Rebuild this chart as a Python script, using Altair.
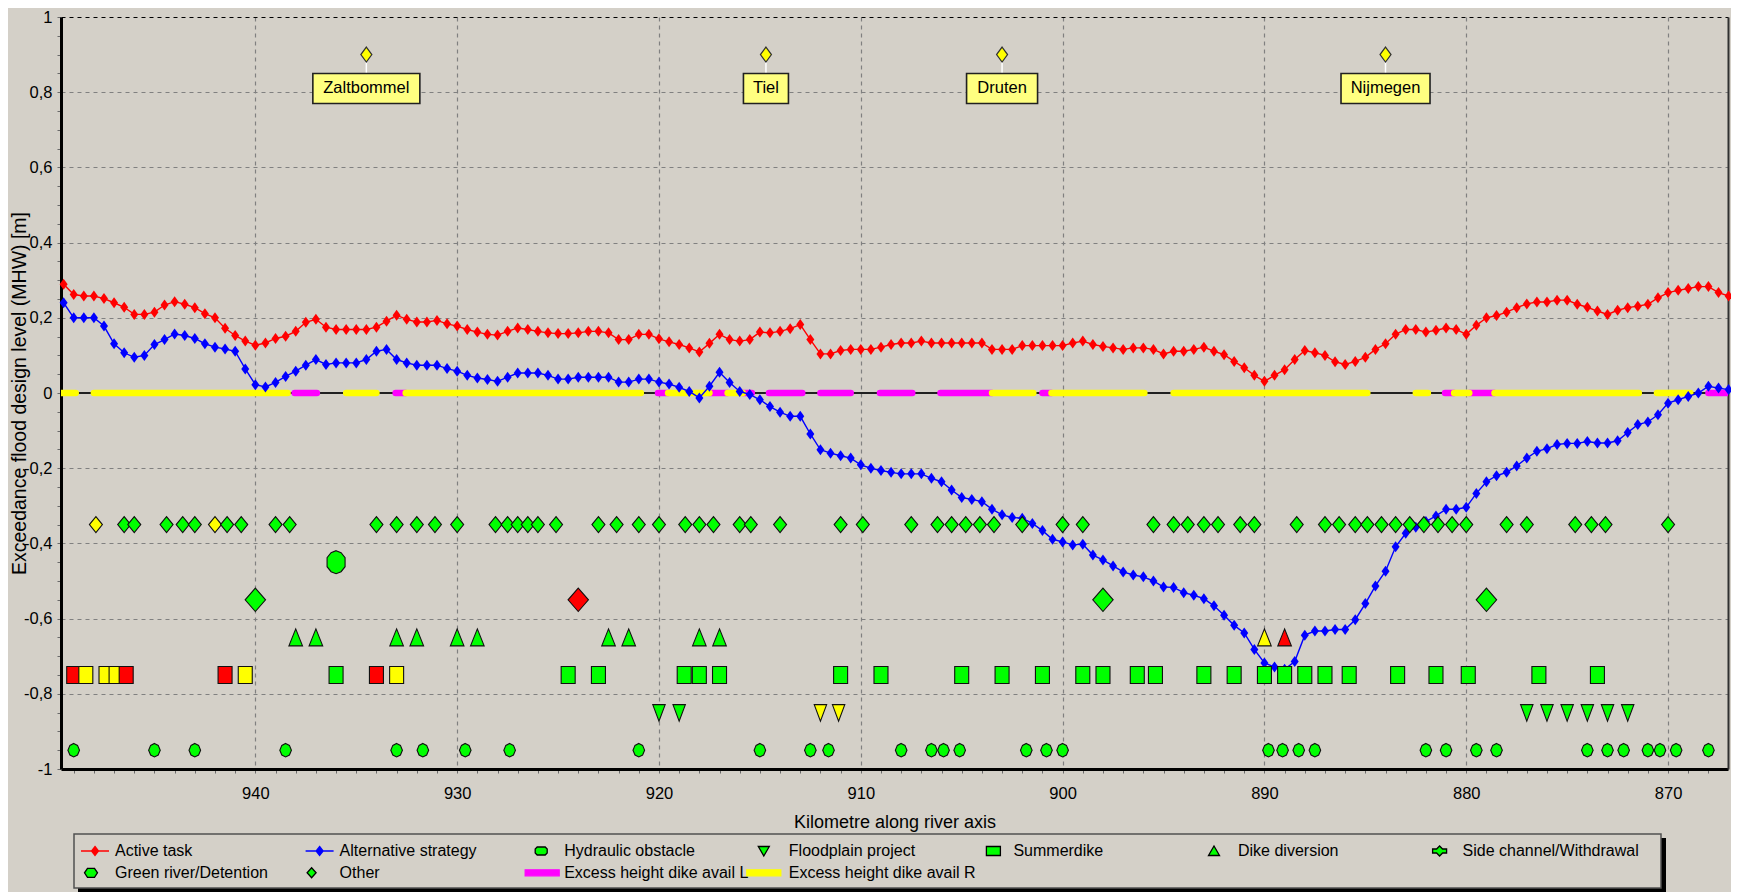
import altair as alt
import pandas as pd

# ---------------- data ----------------
# computation stations, every 0.5 km from km 949.5 down to km 867.0
KM = [round(949.5 - 0.5 * i, 1) for i in range(166)]

ACTIVE_TASK = [
    0.289, 0.262, 0.258, 0.258, 0.251, 0.240, 0.228, 0.209, 0.209, 0.215,
    0.234, 0.243, 0.236, 0.227, 0.211, 0.200, 0.172, 0.153, 0.138, 0.127,
    0.133, 0.145, 0.151, 0.164, 0.188, 0.196, 0.175, 0.169, 0.169, 0.169,
    0.169, 0.175, 0.191, 0.207, 0.196, 0.189, 0.189, 0.193, 0.184, 0.178,
    0.169, 0.162, 0.156, 0.154, 0.164, 0.173, 0.169, 0.164, 0.160, 0.158,
    0.158, 0.160, 0.164, 0.164,
    0.160, 0.142, 0.142, 0.156, 0.156, 0.144,
    0.136, 0.129, 0.120, 0.109, 0.132, 0.156, 0.142, 0.138, 0.142, 0.162,
    0.160, 0.164, 0.171, 0.182, 0.142, 0.104, 0.104, 0.113, 0.116, 0.116,
    0.116, 0.122, 0.129, 0.133, 0.133, 0.138, 0.133, 0.133, 0.133, 0.133,
    0.133, 0.133, 0.116, 0.116, 0.116, 0.126, 0.126, 0.126, 0.126, 0.126,
    0.133, 0.138, 0.129, 0.124, 0.120, 0.116, 0.120, 0.120, 0.116, 0.104,
    0.111,
    0.111, 0.116, 0.122, 0.111, 0.102, 0.084, 0.067, 0.047, 0.031,
    0.047, 0.062, 0.089, 0.113, 0.107, 0.100, 0.083, 0.076, 0.084, 0.095,
    0.116, 0.131, 0.156, 0.169, 0.169, 0.162, 0.167, 0.173, 0.169, 0.156,
    0.180, 0.200, 0.206, 0.215, 0.227, 0.237, 0.242, 0.242, 0.247, 0.247,
    0.236, 0.228, 0.218, 0.209, 0.220, 0.227, 0.231, 0.236, 0.253, 0.267,
    0.273, 0.278, 0.283, 0.283, 0.267, 0.258,
]

ALTERNATIVE_STRATEGY = [
    0.240, 0.200, 0.200, 0.200, 0.178, 0.131, 0.107, 0.095, 0.100, 0.129,
    0.142, 0.157, 0.153, 0.145, 0.131, 0.122, 0.117, 0.111, 0.064, 0.022,
    0.016, 0.028, 0.044, 0.058, 0.074, 0.089, 0.076, 0.080, 0.080, 0.080,
    0.089, 0.111, 0.116, 0.089, 0.080, 0.074, 0.074, 0.074, 0.065, 0.058,
    0.047, 0.040, 0.036, 0.031, 0.042, 0.053, 0.053, 0.053, 0.047, 0.037,
    0.037, 0.042, 0.042, 0.042,
    0.042, 0.029, 0.029, 0.037, 0.037, 0.029,
    0.024, 0.015, 0.004, -0.013, 0.018, 0.055, 0.028, 0.004, -0.004, -0.018,
    -0.036, -0.051, -0.062, -0.062, -0.109, -0.151, -0.160, -0.167, -0.173, -0.191,
    -0.200, -0.206, -0.211, -0.215, -0.215, -0.215, -0.227, -0.236, -0.258, -0.278,
    -0.283, -0.289, -0.309, -0.324, -0.331, -0.333, -0.347, -0.366, -0.389, -0.396,
    -0.404, -0.402, -0.431, -0.444, -0.460, -0.476, -0.484, -0.489, -0.500, -0.516,
    -0.517,
    -0.531, -0.538, -0.547, -0.566, -0.591, -0.618, -0.638, -0.682, -0.718,
    -0.729, -0.735, -0.714, -0.644, -0.633, -0.633, -0.629, -0.629, -0.603, -0.560,
    -0.513, -0.474, -0.409, -0.373, -0.357, -0.342, -0.327, -0.309, -0.309, -0.304,
    -0.267, -0.236, -0.220, -0.211, -0.194, -0.173, -0.155, -0.148, -0.137, -0.134,
    -0.134, -0.129, -0.133, -0.133, -0.127, -0.105, -0.084, -0.077, -0.058, -0.027,
    -0.018, -0.009, 0.000, 0.018, 0.013, 0.009,
]

# excess height dike available: stretches [from km, to km] on the zero line
EXCESS_L = [[938.05, 936.95], [933.05, 932.55], [920.05, 919.55], [917.5, 916.6],
            [915.85, 915.4], [914.55, 912.9], [912.0, 910.5], [909.05, 907.45],
            [906.05, 903.5], [901.0, 900.55], [881.05, 880.6], [879.85, 878.6],
            [868.0, 867.03]]
EXCESS_R = [[949.6, 948.9], [948.0, 938.4], [935.5, 934.0], [932.55, 920.9],
            [919.55, 917.5], [916.6, 915.85], [903.5, 901.45], [900.55, 895.95],
            [894.5, 884.9], [882.5, 881.9], [880.6, 879.85], [878.6, 871.45],
            [870.55, 868.9]]

# measures: km positions and status (g = green, y = yellow, r = red)
OTHER_KM = [947.9, 946.5, 946.0, 944.4, 943.6, 943.0, 942.0, 941.4, 940.7, 939.0,
            938.3, 934.0, 933.0, 932.0, 931.1, 930.0, 928.1, 927.5, 927.0, 926.5,
            926.0, 925.1, 923.0, 922.1, 921.0, 920.0, 918.7, 918.0, 917.3, 916.0,
            915.45, 914.0, 911.0, 909.9, 907.5, 906.2, 905.5, 904.8, 904.1, 903.4,
            902.0, 900.0, 899.0, 895.5, 894.5, 893.8, 893.0, 892.3, 891.2, 890.5,
            888.4, 887.0, 886.3, 885.5, 884.9, 884.2, 883.5, 882.8, 882.1, 881.4,
            880.7, 880.0, 878.0, 877.0, 874.6, 873.8, 873.1, 870.0]
OTHER_ST = ("ygggggyggg" "gggggggggg" "gggggggggg" "gggggggggg"
            "gggggggggg" "gggggggggg" "gggggggg")

GREEN_RIVER_KM = [936.0]
GREEN_RIVER_ST = "g"

SIDE_CHANNEL_KM = [940.0, 924.0, 898.0, 879.0]
SIDE_CHANNEL_ST = "grgg"

DIKE_DIVERSION_KM = [938.0, 937.0, 933.0, 932.0, 930.0, 929.0, 922.5, 921.5, 918.0, 917.0,
                     890.0, 889.0]
DIKE_DIVERSION_ST = "ggggggggggyr"

SUMMERDIKE_KM = [949.0, 948.4, 947.4, 946.9, 946.4, 941.5, 940.5, 936.0, 934.0, 933.0,
                 924.5, 923.0, 918.75, 918.0, 917.0, 911.0, 909.0, 905.0, 903.0, 901.0,
                 899.0, 898.0, 896.3, 895.4, 893.0, 891.5, 890.0, 889.0, 888.0, 887.0,
                 885.8, 883.4, 881.5, 879.9, 876.4, 873.5]
SUMMERDIKE_ST = ("ryyyrrygry" "gggggggggg" "gggggggggg" "gggggg")

FLOODPLAIN_KM = [920.0, 919.0, 912.0, 911.1, 877.0, 876.0, 875.0, 874.0, 873.0, 872.0]
FLOODPLAIN_ST = "ggyygggggg"

HYDRAULIC_KM = [949.0, 945.0, 943.0, 938.5, 933.0, 931.7, 929.6, 927.4, 921.0, 915.0,
                912.5, 911.6, 908.0, 906.5, 905.9, 905.1, 901.8, 900.8, 900.0, 889.8,
                889.1, 888.3, 887.5, 882.0, 881.0, 879.5, 878.5, 874.0, 873.0, 872.2,
                871.0, 870.4, 869.6, 868.0]
HYDRAULIC_ST = ("gggggggggg" "gggggggggg" "gggggggggg" "gggg")

TOWNS = ["Zaltbommel", "Tiel", "Druten", "Nijmegen"]
TOWN_KM = [934.5, 914.7, 903.0, 884.0]

LEGEND_LABELS = ["Active task", "Alternative strategy", "Hydraulic obstacle",
                 "Floodplain project", "Summerdike", "Dike diversion",
                 "Side channel/Withdrawal", "Green river/Detention", "Other",
                 "Excess height dike avail L", "Excess height dike avail R"]

# ---------------- styling ----------------
BG = "#D4D0C8"
GREEN, YELLOW, RED = "#00FF00", "#FFFF00", "#FF0000"
BLUE, MAGENTA = "#0000FF", "#FF00FF"
FONT = "Liberation Sans, Arial, sans-serif"
W, H = 1667, 752

LEVEL = {"Other": -0.35, "Green river/Detention": -0.45, "Side channel/Withdrawal": -0.55,
         "Dike diversion": -0.65, "Summerdike": -0.75, "Floodplain project": -0.85,
         "Hydraulic obstacle": -0.95}
# symbol outlines in pixels (mark size 4 => path units are pixels)
SHAPE = {
    "Other": "M0,-8L6.5,0L0,8L-6.5,0Z",
    "Green river/Detention": "M0,-11.5L5,-9.5L9,-4.5L9,4.5L5,9.5L0,11.5L-5,9.5L-9,4.5L-9,-4.5L-5,-9.5Z",
    "Side channel/Withdrawal": "M0,-11.7L10.2,0L0,11.7L-10.2,0Z",
    "Dike diversion": "M0,-8.5L6.8,8.5L-6.8,8.5Z",
    "Summerdike": "M-7,-8.5L7,-8.5L7,8.5L-7,8.5Z",
    "Floodplain project": "M-6.2,-8L6.2,-8L0,8.5Z",
    "Hydraulic obstacle": "M0,-6.8L3.8,-4.8L5.8,0L3.8,4.8L0,6.8L-3.8,4.8L-5.8,0L-3.8,-4.8Z",
}
LINE_DIAMOND = "M0,-5.5L4,0L0,5.5L-4,0Z"
TOWN_DIAMOND = "M0,-7.5L5.5,0L0,7.5L-5.5,0Z"
BOX_WIDTH = {"Zaltbommel": 107, "Tiel": 45, "Druten": 71, "Nijmegen": 89}

LEGEND_STYLE = {
    "Active task": ("M-14,0L14,0M0,-4.5L3.5,0L0,4.5L-3.5,0Z", RED, RED, -20),
    "Alternative strategy": ("M-14,0L14,0M0,-4.5L3.5,0L0,4.5L-3.5,0Z", BLUE, BLUE, -20),
    "Hydraulic obstacle": ("M-4,-4L4,-4L6,-2L6,2L4,4L-4,4L-6,2L-6,-2Z", GREEN, "#000000", -23),
    "Floodplain project": ("M-5.5,-4.5L5.5,-4.5L0,5Z", GREEN, "#000000", -25),
    "Summerdike": ("M-7,-4.5L7,-4.5L7,4.5L-7,4.5Z", GREEN, "#000000", -20),
    "Dike diversion": ("M0,-5L5.5,4.5L-5.5,4.5Z", GREEN, "#000000", -24),
    "Side channel/Withdrawal": ("M0,-5L3,-2L7,-2L7,2L3,2L0,5L-3,2L-7,2L-7,-2L-3,-2Z", GREEN, "#000000", -23),
    "Green river/Detention": ("M-3.5,-4.5L3.5,-4.5L6.5,0L3.5,4.5L-3.5,4.5L-6.5,0Z", GREEN, "#000000", -24),
    "Other": ("M0,-5L4.5,0L0,5L-4.5,0Z", GREEN, "#000000", -28),
    "Excess height dike avail L": ("M-17,-3L17,-3L17,3L-17,3Z", MAGENTA, MAGENTA, -22),
    "Excess height dike avail R": ("M-17,-3L17,-3L17,3L-17,3Z", YELLOW, YELLOW, -25),
}

# ---------------- tables ----------------
lines_df = pd.concat([
    pd.DataFrame({"km": KM, "value": ACTIVE_TASK, "series": "Active task"}),
    pd.DataFrame({"km": KM, "value": ALTERNATIVE_STRATEGY, "series": "Alternative strategy"}),
])

excess_df = pd.DataFrame(
    [{"start": a, "end": b, "side": "L"} for a, b in EXCESS_L]
    + [{"start": a, "end": b, "side": "R"} for a, b in EXCESS_R])

rows = []
for cat, kms, sts in [
    ("Other", OTHER_KM, OTHER_ST),
    ("Green river/Detention", GREEN_RIVER_KM, GREEN_RIVER_ST),
    ("Side channel/Withdrawal", SIDE_CHANNEL_KM, SIDE_CHANNEL_ST),
    ("Dike diversion", DIKE_DIVERSION_KM, DIKE_DIVERSION_ST),
    ("Summerdike", SUMMERDIKE_KM, SUMMERDIKE_ST),
    ("Floodplain project", FLOODPLAIN_KM, FLOODPLAIN_ST),
    ("Hydraulic obstacle", HYDRAULIC_KM, HYDRAULIC_ST),
]:
    for k, s in zip(kms, sts):
        rows.append({"km": k, "category": cat, "status": s,
                     "level": LEVEL[cat], "path": SHAPE[cat]})
markers_df = pd.DataFrame(rows)

towns_df = pd.DataFrame({"town": TOWNS, "km": TOWN_KM})

leg_rows = []
for i, lab in enumerate(LEGEND_LABELS):
    col, row = i % 7, i // 7
    path, fill, stroke, dx = LEGEND_STYLE[lab]
    tx = 54 + 224.6 * col
    leg_rows.append({"label": lab, "tx": tx, "sx": tx + dx, "ly": 834 + 21.8 * row,
                     "path": path, "fill": fill, "stroke": stroke})
legend_df = pd.DataFrame(leg_rows)
one = pd.DataFrame({"v": [0.0], "k": [900.0]})

# ---------------- scales & axes ----------------
xs = alt.Scale(domain=[949.63, 867.03], nice=False, zero=False)
ys = alt.Scale(domain=[-1, 1], nice=False, zero=False)

MAJOR_Y = "abs(datum.value*5 - round(datum.value*5)) < 0.001"
X_AXIS = alt.Axis(
    orient="bottom",
    values=list(range(868, 950)),
    labelExpr="datum.value % 10 === 0 ? datum.label : ''",
    grid=True, gridColor="#808080", gridDash=[4, 4], gridWidth=1.2,
    gridOpacity={"condition": {"test": "datum.value % 10 === 0", "value": 1}, "value": 0},
    domain=True, domainColor="#000000", domainWidth=3,
    ticks=True, tickColor="#6A6A6A", tickSize=4, tickWidth=1,
    labels=True, labelFont=FONT, labelFontSize=16.5, labelColor="#000000", labelPadding=12,
    labelFlush=False, labelOverlap=False,
    title="Kilometre along river axis", titleFont=FONT, titleFontSize=18,
    titleFontWeight="normal", titleColor="#000000", titleY=53, titleBaseline="middle",
)
Y_AXIS = alt.Axis(
    orient="left",
    values=[round(-1 + 0.05 * i, 2) for i in range(41)],
    labelExpr=MAJOR_Y + " ? replace(replace(format(datum.value, '~g'), '.', ','), '\u2212', '-') : ''",
    grid=True, gridDash=[4, 4], gridWidth=1.2,
    gridColor={"condition": {"test": "datum.value > 0.99", "value": "#000000"}, "value": "#808080"},
    gridOpacity={"condition": {"test": MAJOR_Y, "value": 1}, "value": 0},
    domainColor="#000000", domainWidth=3, tickColor="#6A6A6A", tickSize=4, tickWidth=1,
    labelFont=FONT, labelFontSize=16.5, labelColor="#000000", labelPadding=5,
    labelOverlap=False,
    title="Exceedance flood design level (MHW) [m]", titleFont=FONT, titleFontSize=19.5,
    titleFontWeight="normal", titleColor="#000000", titleX=-42, titleY=376,
    titleBaseline="middle", titleAngle=270, titleAlign="center",
)
RIGHT_AXIS = alt.Axis(orient="right", labels=False, ticks=False, grid=False, domain=True,
                      domainColor="#303030", domainWidth=2, title=None)

# ---------------- layers ----------------
# frame layer: carries the bottom x axis, the left y axis and the right border
frame_x = alt.Chart(one).mark_rule(opacity=0).encode(
    x=alt.X("k:Q", scale=xs, axis=X_AXIS),
    y=alt.Y("v:Q", scale=ys, axis=Y_AXIS))
border = alt.Chart(one).mark_rule(opacity=0).encode(
    y=alt.Y("v:Q", scale=ys, axis=RIGHT_AXIS))

zero = alt.Chart(one).mark_rule(color="#202020", strokeWidth=2).encode(
    y=alt.Y("v:Q", scale=ys, axis=None))

excess = alt.Chart(excess_df).mark_rule(strokeWidth=6.5, strokeCap="round", clip=True).encode(
    x=alt.X("start:Q", scale=xs, axis=None), x2="end:Q",
    y=alt.YDatum(0, scale=ys, axis=None),
    color=alt.Color("side:N", scale=alt.Scale(domain=["L", "R"], range=[MAGENTA, YELLOW]),
                    legend=None))

layers = [frame_x, border, zero, excess]
for series, col in [("Active task", RED), ("Alternative strategy", BLUE)]:
    base = alt.Chart(lines_df).transform_filter(alt.datum.series == series)
    layers.append(base.mark_line(color=col, strokeWidth=1.4).encode(
        x=alt.X("km:Q", scale=xs, axis=None),
        y=alt.Y("value:Q", scale=ys, axis=None)))
    layers.append(base.mark_point(shape=LINE_DIAMOND, size=4, filled=True, color=col,
                                  opacity=1, strokeWidth=0).encode(
        x=alt.X("km:Q", scale=xs, axis=None),
        y=alt.Y("value:Q", scale=ys, axis=None)))

markers = alt.Chart(markers_df).mark_point(filled=True, size=4, opacity=1,
                                           stroke="#101010", strokeWidth=1.1).encode(
    x=alt.X("km:Q", scale=xs, axis=None),
    y=alt.Y("level:Q", scale=ys, axis=None),
    shape=alt.Shape("path:N", scale=None),
    fill=alt.Fill("status:N", scale=alt.Scale(domain=["g", "y", "r"],
                                              range=[GREEN, YELLOW, RED]), legend=None))
layers.append(markers)

connector = alt.Chart(towns_df).mark_rule(color="#FFFFFF", strokeWidth=1.5).encode(
    x=alt.X("km:Q", scale=xs, axis=None),
    y=alt.YDatum(0.9, scale=ys, axis=None), y2=alt.Y2Datum(0.85))
town_pt = alt.Chart(towns_df).mark_point(shape=TOWN_DIAMOND, size=4, filled=True, opacity=1,
                                         fill=YELLOW, stroke="#303030", strokeWidth=1.2).encode(
    x=alt.X("km:Q", scale=xs, axis=None),
    y=alt.YDatum(0.9, scale=ys, axis=None))
layers += [connector, town_pt]
for t in TOWNS:
    w = BOX_WIDTH[t]
    layers.append(alt.Chart(towns_df).transform_filter(alt.datum.town == t).mark_rect(
        fill="#FFFF80", stroke="#202020", strokeWidth=1.6,
        xOffset=-w / 2, x2Offset=w / 2, yOffset=-15, y2Offset=15).encode(
        x=alt.X("km:Q", scale=xs, axis=None), x2="km:Q",
        y=alt.YDatum(0.81, scale=ys, axis=None), y2=alt.Y2Datum(0.81)))
town_txt = alt.Chart(towns_df).mark_text(font=FONT, fontSize=16.5, color="#000000",
                                         baseline="middle", align="center").encode(
    x=alt.X("km:Q", scale=xs, axis=None),
    y=alt.YDatum(0.81, scale=ys, axis=None), text="town:N")
layers.append(town_txt)

# legend box (drawn in pixels below the plot)
shadow = alt.Chart(one).mark_rect(fill="#000000").encode(
    x=alt.value(17), x2=alt.value(1605), y=alt.value(821), y2=alt.value(880))
box = alt.Chart(one).mark_rect(fill=BG, stroke="#505050", strokeWidth=1.5).encode(
    x=alt.value(13), x2=alt.value(1600), y=alt.value(817), y2=alt.value(871))
leg_sym = alt.Chart(legend_df).mark_point(filled=True, size=4, opacity=1, strokeWidth=1.3).encode(
    x=alt.X("sx:Q", scale=None, axis=None),
    y=alt.Y("ly:Q", scale=None, axis=None),
    shape=alt.Shape("path:N", scale=None),
    fill=alt.Fill("fill:N", scale=None),
    stroke=alt.Stroke("stroke:N", scale=None))
leg_txt = alt.Chart(legend_df).mark_text(font=FONT, fontSize=16, color="#000000",
                                         align="left", baseline="middle").encode(
    x=alt.X("tx:Q", scale=None, axis=None),
    y=alt.Y("ly:Q", scale=None, axis=None),
    text="label:N")
layers += [shadow, box, leg_sym, leg_txt]

chart = alt.layer(*layers).properties(
    width=W, height=H, background=BG,
    padding={"left": 53, "top": 9, "right": 3, "bottom": 123},
    autosize=alt.AutoSizeParams(type="none"),
).resolve_axis(x="independent", y="independent").configure_view(stroke=None)

chart.save("out.html", embed_options={"renderer": "svg", "actions": False})
